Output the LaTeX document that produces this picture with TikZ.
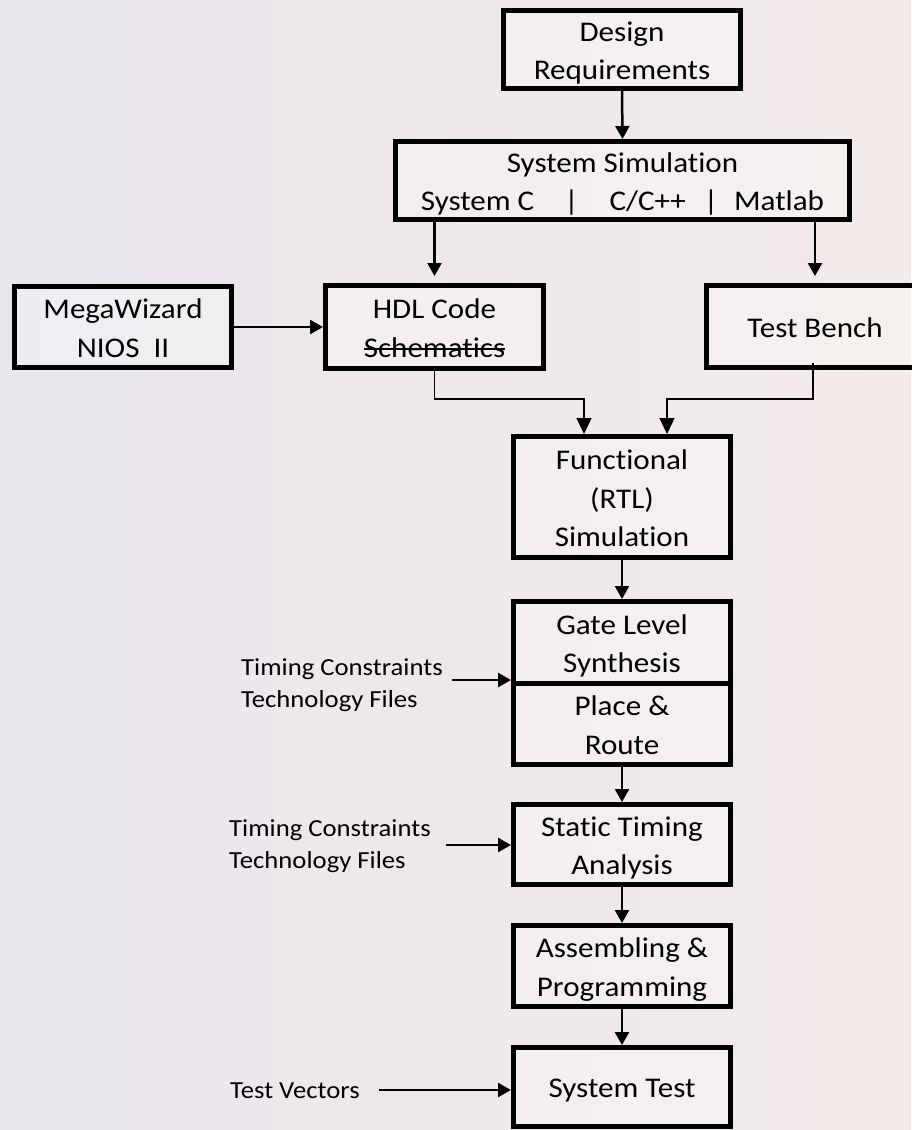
\documentclass[tikz,border=0pt]{standalone}
\usepackage{fontspec}
\setmainfont{Carlito}[FakeStretch=1.09,Ligatures={NoCommon}]
\usetikzlibrary{arrows.meta}
\newcommand\mystrike[1]{\setbox0\hbox{#1}\rlap{\rule[0.27em]{\wd0}{1.4pt}}\box0}
\newcommand\sa{\rule{0pt}{28pt}}
\newcommand\sz{\rule[-6pt]{0pt}{6pt}}
\definecolor{bgA}{RGB}{233,230,238}
\definecolor{bgB}{RGB}{243,235,233}
\begin{document}
\begin{tikzpicture}[x=1pt,y=-1pt,
  box/.style={draw=black,line width=5pt,fill=white,fill opacity=0.3,text opacity=1,inner sep=0pt,align=center,font=\fontsize{28.5}{38.5}\selectfont},
  lab/.style={inner sep=0pt,align=left,font=\fontsize{24.5}{32}\selectfont},
  arr/.style={line width=2.5pt,-{Triangle[length=13pt,width=14pt]}},
  thinarr/.style={line width=1.3pt,-{Triangle[length=16pt,width=15pt]}}]
\useasboundingbox (0,0) rectangle (911,1130);
\shade[left color=bgA,right color=bgB] (0,0) rectangle (911,1130);

\node[box,minimum width=237pt,minimum height=78pt] (dr) at (622,49.5) {\sa Design\\Requirements\sz};
\node[box,minimum width=454pt,minimum height=78pt] (ss) at (622.5,180.5) {\sa System Simulation\\System C\hspace{30pt}|\hspace{31pt}C/C++\hspace{18pt}|\hspace{16pt}Matlab\sz};
\node[box,minimum width=217pt,minimum height=81pt] (mw) at (123,327) {\sa MegaWizard\\NIOS\ \ II\sz};
\node[box,minimum width=218pt,minimum height=83pt] (hdl) at (434.5,327) {\sa HDL Code\\\mystrike{Schematics}\sz};
\node[box,minimum width=217pt,minimum height=82pt] (tb) at (815,326.5) {\sa Test Bench\sz};
\node[box,minimum width=217pt,minimum height=121pt] (fn) at (622,497) {\sa Functional\\(RTL)\\Simulation\sz};
\node[box,minimum width=217pt,minimum height=81.5pt] (gl) at (622,642.25) {\sa Gate Level\\Synthesis\sz};
\node[box,minimum width=217pt,minimum height=81.5pt] (pr) at (622,723.75) {\sa Place \&\\Route\sz};
\node[box,minimum width=217pt,minimum height=80pt] (sta) at (622,844.5) {\sa Static Timing\\Analysis\sz};
\node[box,minimum width=217pt,minimum height=81pt] (ap) at (622,966) {\sa Assembling \&\\Programming\sz};
\node[box,minimum width=217pt,minimum height=78.5pt] (st) at (622,1086.75) {\sa System Test\sz};

\node[lab,anchor=west] (t1) at (241,685.5) {Timing Constraints\\Technology Files};
\node[lab,anchor=west] (t2) at (229,846.5) {Timing Constraints\\Technology Files};
\node[lab,anchor=base west] (tv) at (230,1098) {Test Vectors};

\coordinate (j1) at (584,399);
\coordinate (j2) at (667,399);
\coordinate (tbo) at (813,363);
\coordinate (t1a) at (452,680);
\coordinate (t2a) at (446,845);
\coordinate (tva) at (379,1090);

\draw[arr] (dr.south) -- (ss.north);
\draw[arr,shorten >=7pt] (ss.south -| hdl.north) -- (hdl.north);
\draw[arr,shorten >=7pt] (ss.south -| tb.north) -- (tb.north);
\draw[arr] (mw.east) -- (hdl.west);
\draw[thinarr] (hdl.south) |- (j1) -- (j1 |- fn.north);
\draw[thinarr] (tbo) |- (j2) -- (j2 |- fn.north);
\draw[arr] (fn.south) -- (gl.north);
\draw[arr] (pr.south) -- (sta.north);
\draw[arr] (sta.south) -- (ap.north);
\draw[arr] (ap.south) -- (st.north);
\draw[arr] (t1a) -- (t1a -| gl.west);
\draw[arr] (t2a) -- (t2a -| sta.west);
\draw[arr] (tva) -- (tva -| st.west);
\end{tikzpicture}
\end{document}
